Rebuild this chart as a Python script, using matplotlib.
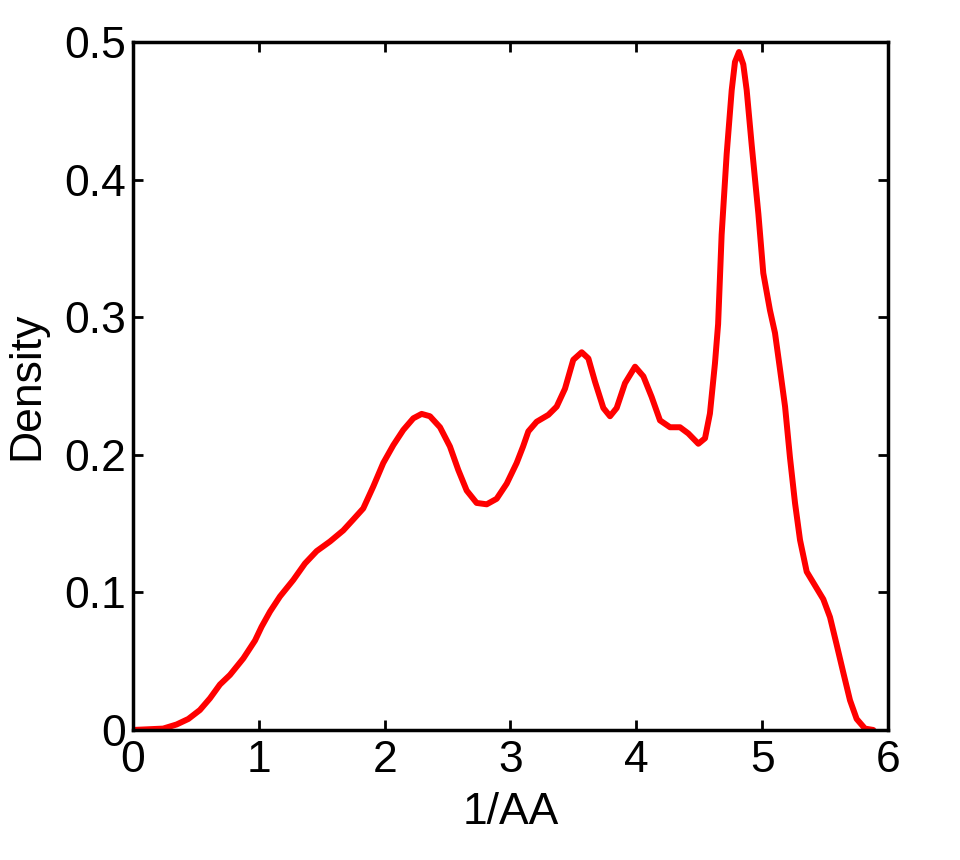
import matplotlib
matplotlib.use("Agg")
import matplotlib.pyplot as plt

# density curve
aa_inv = [0.000, 0.240, 0.347, 0.440, 0.532, 0.612, 0.691, 0.771, 0.877,
          0.970, 1.022, 1.089, 1.168, 1.274, 1.367, 1.460, 1.566, 1.671,
          1.751, 1.830, 1.910, 1.989, 2.069, 2.148, 2.228, 2.294, 2.360,
          2.440, 2.519, 2.585, 2.652, 2.731, 2.811, 2.890, 2.970, 3.049,
          3.100, 3.142, 3.208, 3.301, 3.367, 3.433, 3.499, 3.566, 3.619,
          3.672, 3.738, 3.791, 3.844, 3.910, 3.990, 4.056, 4.122, 4.188,
          4.268, 4.347, 4.413, 4.493, 4.546, 4.585, 4.625, 4.650, 4.678,
          4.718, 4.758, 4.784, 4.816, 4.850, 4.877, 4.917, 4.970, 5.009,
          5.062, 5.102, 5.142, 5.182, 5.221, 5.261, 5.301, 5.354, 5.420,
          5.486, 5.539, 5.592, 5.645, 5.698, 5.751, 5.817, 5.883]
density = [0.0000, 0.0010, 0.0040, 0.0080, 0.0145, 0.0230, 0.0330, 0.0400,
           0.0520, 0.0650, 0.0750, 0.0860, 0.0970, 0.1090, 0.1210, 0.1300,
           0.1370, 0.1450, 0.1530, 0.1610, 0.1770, 0.1940, 0.2070, 0.2180,
           0.2265, 0.2297, 0.2280, 0.2200, 0.2060, 0.1890, 0.1740, 0.1650,
           0.1640, 0.1680, 0.1790, 0.1940, 0.2060, 0.2170, 0.2240, 0.2290,
           0.2350, 0.2480, 0.2690, 0.2745, 0.2700, 0.2530, 0.2340, 0.2280,
           0.2340, 0.2520, 0.2640, 0.2570, 0.2420, 0.2250, 0.2200, 0.2200,
           0.2155, 0.2080, 0.2120, 0.2300, 0.2665, 0.2950, 0.3600, 0.4186,
           0.4650, 0.4855, 0.4927, 0.4837, 0.4650, 0.4250, 0.3750, 0.3320,
           0.3050, 0.2885, 0.2620, 0.2350, 0.1980, 0.1650, 0.1380, 0.1150,
           0.1050, 0.0950, 0.0820, 0.0620, 0.0416, 0.0216, 0.0080, 0.0010,
           0.0000]

x_ticks = [0, 1, 2, 3, 4, 5, 6]
y_ticks = [0, 0.1, 0.2, 0.3, 0.4, 0.5]
y_tick_labels = ["0", "0.1", "0.2", "0.3", "0.4", "0.5"]

plt.rcParams["font.family"] = ["Liberation Sans", "DejaVu Sans"]

fig = plt.figure(figsize=(9.6, 8.6), dpi=100)
ax = fig.add_axes([0.1385, 0.1512, 0.7865, 0.8])

ax.plot(aa_inv, density, color="#ff0000", linewidth=4.3,
        solid_joinstyle="round", solid_capstyle="round")

ax.set_xlim(0, 6)
ax.set_ylim(0, 0.5)
ax.set_xticks(x_ticks)
ax.set_xticklabels([str(t) for t in x_ticks])
ax.set_yticks(y_ticks)
ax.set_yticklabels(y_tick_labels)

ax.tick_params(direction="in", length=7, width=2, labelsize=32,
               top=True, right=True)
ax.tick_params(axis="x", pad=7.5)
ax.tick_params(axis="y", pad=5)
for s in ax.spines.values():
    s.set_linewidth(2.5)

ax.set_xlabel("1/AA", fontsize=32, labelpad=8)
ax.set_ylabel("Density", fontsize=32, labelpad=12)

fig.savefig("out.png", dpi=100)
